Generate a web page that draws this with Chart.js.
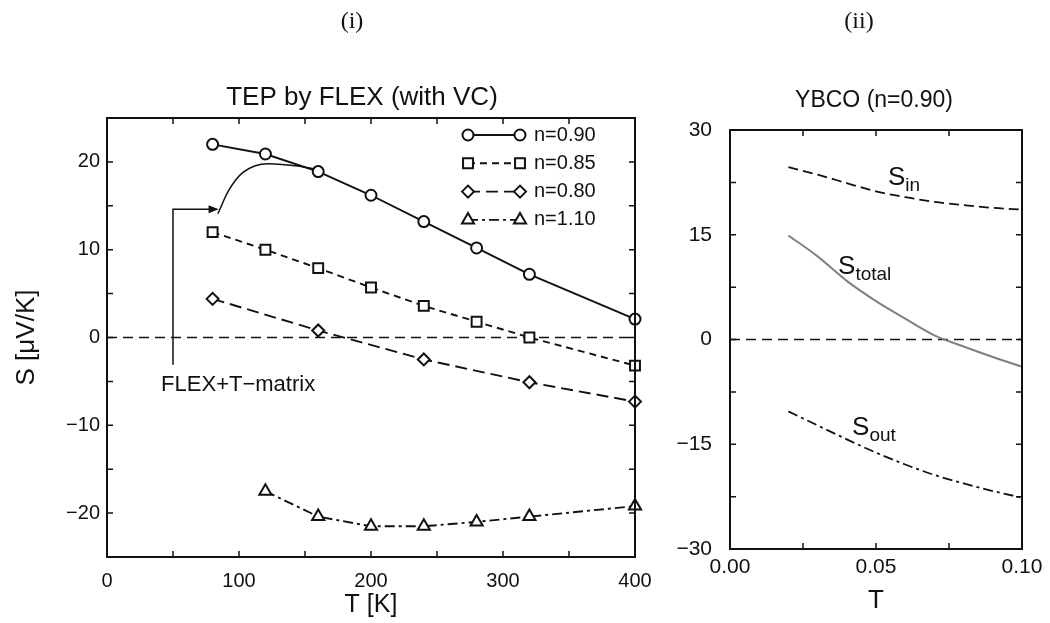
<!DOCTYPE html>
<html>
<head>
<meta charset="utf-8">
<title>TEP by FLEX</title>
<script src="https://cdn.jsdelivr.net/npm/chart.js@4.4.1/dist/chart.umd.min.js"></script>
<style>
body { margin: 0; background: #fff; width: 1050px; height: 623px; position: relative; overflow: hidden; }
#leftChart { position: absolute; left: 0; top: 0; }
#rightChart { position: absolute; left: 640px; top: 0; }
</style>
</head>
<body>
<canvas id="leftChart" width="680" height="623"></canvas>
<canvas id="rightChart" width="410" height="623"></canvas>
<script>
"use strict"
// (i) TEP by FLEX (with VC)
const tempK = [80, 120, 160, 200, 240, 280, 320, 400];
const s090 = [22.0, 20.9, 18.9, 16.2, 13.2, 10.2, 7.2, 2.1];
const s085 = [12.0, 10.0, 7.9, 5.7, 3.6, 1.8, 0.0, -3.2];
const tempK080 = [80, 160, 240, 320, 400];
const s080 = [4.4, 0.8, -2.5, -5.1, -7.3];
const tempK110 = [120, 160, 200, 240, 280, 320, 400];
const s110 = [-17.5, -20.4, -21.5, -21.5, -21.0, -20.4, -19.2];
// FLEX+T-matrix kurva (utan markörer)
const tempTm = [84, 92, 103, 122, 146, 157];
const sTm = [14.1, 16.7, 18.8, 19.8, 19.5, 19.2];
const leftXTicks = [0, 100, 200, 300, 400];
const leftYTicks = [-20, -10, 0, 10, 20];

// (ii) YBCO (n=0.90)
const tRight = [0.02, 0.03, 0.04, 0.05, 0.06, 0.07, 0.08, 0.09, 0.10];
const sIn = [24.7, 23.6, 22.4, 21.2, 20.4, 19.7, 19.25, 18.85, 18.6];
const sTotal = [14.9, 11.9, 8.4, 5.5, 3.0, 0.6, -1.0, -2.5, -3.9];
const sOut = [-10.3, -12.3, -14.3, -16.2, -17.9, -19.4, -20.6, -21.7, -22.65];
const rightXTicks = [0, 0.05, 0.1];
const rightYTicks = [-30, -15, 0, 15, 30];

const SANS = "'Liberation Sans', Arial, sans-serif";
const SERIF = "'Liberation Serif', 'Times New Roman', serif";
const INK = '#111';
Chart.defaults.font.family = SANS;
Chart.defaults.color = INK;

const toXY = (xs, ys) => xs.map((x, i) => ({x: x, y: ys[i]}));
const inList = (list, v) => list.some(t => Math.abs(t - v) < 1e-9);
const minus = s => String(s).replace('-', '\u2212');

//Ram, inåtriktade tickmarkeringar och nollinje
const framePlugin = {
    id: 'frame',
    beforeDatasetsDraw(chart) {
        const {ctx, chartArea: a, scales: {y}} = chart;
        const y0 = y.getPixelForValue(0);
        ctx.save();
        ctx.strokeStyle = INK;
        ctx.lineWidth = 1.5;
        ctx.setLineDash([10, 6]);
        ctx.beginPath();
        ctx.moveTo(a.left, y0);
        ctx.lineTo(a.right, y0);
        ctx.stroke();
        ctx.restore();
    },
    afterDatasetsDraw(chart) {
        const {ctx, chartArea: a, scales: {x, y}} = chart;
        const len = 6;
        ctx.save();
        ctx.strokeStyle = INK;
        ctx.lineWidth = 1.5;
        ctx.beginPath();
        x.ticks.forEach(t => {
            const px = x.getPixelForValue(t.value);
            ctx.moveTo(px, a.bottom); ctx.lineTo(px, a.bottom - len);
            ctx.moveTo(px, a.top); ctx.lineTo(px, a.top + len);
        });
        y.ticks.forEach(t => {
            const py = y.getPixelForValue(t.value);
            ctx.moveTo(a.left, py); ctx.lineTo(a.left + len, py);
            ctx.moveTo(a.right, py); ctx.lineTo(a.right - len, py);
        });
        ctx.stroke();
        ctx.lineWidth = 2;
        ctx.strokeRect(a.left, a.top, a.right - a.left, a.bottom - a.top);
        ctx.restore();
    }
};

//Fri text (rubriker) i canvas-koordinater
const textPlugin = {
    id: 'freeText',
    afterDraw(chart, args, opts) {
        const ctx = chart.ctx;
        ctx.save();
        ctx.fillStyle = INK;
        opts.items.forEach(it => {
            ctx.font = it.font;
            ctx.textAlign = it.align || 'center';
            ctx.textBaseline = 'alphabetic';
            ctx.fillText(it.text, it.x, it.y);
        });
        ctx.restore();
    }
};

//Legend med markör i båda ändar
const legendPlugin = {
    id: 'sideLegend',
    afterDraw(chart, args, opts) {
        const ctx = chart.ctx;
        ctx.save();
        chart.data.datasets.forEach(ds => {
            if (ds.legendRow === undefined) return;
            const y = opts.top + ds.legendRow * opts.rowGap;
            ctx.strokeStyle = ds.borderColor;
            ctx.lineWidth = ds.borderWidth;
            ctx.setLineDash(ds.borderDash || []);
            ctx.beginPath();
            ctx.moveTo(opts.x1, y);
            ctx.lineTo(opts.x2, y);
            ctx.stroke();
            ctx.setLineDash([]);
            ctx.fillStyle = '#fff';
            ctx.lineWidth = ds.pointBorderWidth;
            [opts.x1, opts.x2].forEach(px => {
                Chart.helpers.drawPoint(ctx, {pointStyle: ds.pointStyle, radius: ds.pointRadius, borderWidth: ds.pointBorderWidth, rotation: 0}, px, y);
            });
            ctx.fillStyle = INK;
            ctx.font = opts.font;
            ctx.textAlign = 'left';
            ctx.textBaseline = 'middle';
            ctx.fillText(ds.label, opts.textX, y);
        });
        ctx.restore();
    }
};

//Pil + text "FLEX+T-matrix", i datakoordinater
const arrowPlugin = {
    id: 'tmArrow',
    afterDatasetsDraw(chart, args, o) {
        const {ctx, scales: {x, y}} = chart;
        const pts = o.path.map(p => [x.getPixelForValue(p[0]), y.getPixelForValue(p[1])]);
        ctx.save();
        ctx.strokeStyle = INK;
        ctx.fillStyle = INK;
        ctx.lineWidth = 1.5;
        ctx.beginPath();
        pts.forEach((p, i) => i ? ctx.lineTo(p[0], p[1]) : ctx.moveTo(p[0], p[1]));
        ctx.stroke();
        const [xe, ye] = pts[pts.length - 1];
        ctx.beginPath();
        ctx.moveTo(xe + 2, ye);
        ctx.lineTo(xe - 8, ye - 4);
        ctx.lineTo(xe - 8, ye + 4);
        ctx.closePath();
        ctx.fill();
        ctx.font = o.font;
        ctx.textAlign = 'left';
        ctx.textBaseline = 'alphabetic';
        ctx.fillText(o.text, x.getPixelForValue(o.textAt[0]), y.getPixelForValue(o.textAt[1]));
        ctx.restore();
    }
};

//S med nedsänkt index, i datakoordinater
const subLabelPlugin = {
    id: 'subLabels',
    afterDatasetsDraw(chart, args, o) {
        const {ctx, scales: {x, y}} = chart;
        ctx.save();
        ctx.fillStyle = INK;
        ctx.textAlign = 'left';
        ctx.textBaseline = 'alphabetic';
        o.items.forEach(it => {
            const px = x.getPixelForValue(it.at[0]);
            const py = y.getPixelForValue(it.at[1]);
            ctx.font = o.bigFont;
            ctx.fillText('S', px, py);
            const w = ctx.measureText('S').width;
            ctx.font = o.subFont;
            ctx.fillText(it.sub, px + w, py + 6);
        });
        ctx.restore();
    }
};

const markerBase = {
    borderColor: INK, pointBorderColor: INK, pointBackgroundColor: '#fff',
    borderWidth: 1.9, pointBorderWidth: 2, tension: 0, clip: false, fill: false
};

new Chart(document.getElementById('leftChart'), {
    type: 'line',
    data: {
        datasets: [
            Object.assign({}, markerBase, {label: 'n=0.90', data: toXY(tempK, s090), pointStyle: 'circle', pointRadius: 5.5, legendRow: 0}),
            Object.assign({}, markerBase, {label: 'n=0.85', data: toXY(tempK, s085), pointStyle: 'rect', pointRadius: 7, borderDash: [7, 5], legendRow: 1}),
            Object.assign({}, markerBase, {label: 'n=0.80', data: toXY(tempK080, s080), pointStyle: 'rectRot', pointRadius: 6, borderDash: [12, 6], legendRow: 2}),
            Object.assign({}, markerBase, {label: 'n=1.10', data: toXY(tempK110, s110), pointStyle: 'triangle', pointRadius: 7, borderDash: [10, 4, 3, 4], legendRow: 3}),
            {label: 'FLEX+T-matrix', data: toXY(tempTm, sTm), borderColor: INK, borderWidth: 1.5, pointRadius: 0, cubicInterpolationMode: 'monotone', fill: false}
        ]
    },
    options: {
        responsive: false,
        animation: false,
        layout: {padding: {top: 118, right: 45, bottom: 0, left: 0}},
        scales: {
            x: {
                type: 'linear', min: 0, max: 400,
                afterFit: s => { s.height = 66; },
                grid: {display: false, drawTicks: false},
                border: {display: false},
                ticks: {stepSize: 50, padding: 12, maxRotation: 0, autoSkip: false, font: {size: 20},
                    callback: v => inList(leftXTicks, v) ? minus(v) : ''},
                title: {display: true, text: 'T [K]', font: {size: 25}, padding: {top: 0, bottom: 3}}
            },
            y: {
                type: 'linear', min: -25, max: 25,
                afterFit: s => { s.width = 107; },
                grid: {display: false, drawTicks: false},
                border: {display: false},
                ticks: {stepSize: 5, padding: 7, autoSkip: false, font: {size: 20},
                    callback: v => inList(leftYTicks, v) ? minus(v) : ''},
                title: {display: true, text: 'S [\u03bcV/K]', font: {size: 26}, padding: {top: 11, bottom: 0}}
            }
        },
        plugins: {
            legend: {display: false},
            tooltip: {enabled: false},
            sideLegend: {top: 135, rowGap: 28.3, x1: 468, x2: 520, textX: 534, font: '20px ' + SANS},
            tmArrow: {path: [[50, -3.1], [50, 14.6], [83, 14.6]], text: 'FLEX+T\u2212matrix', textAt: [41, -6.1], font: '22px ' + SANS},
            freeText: {items: [
                {text: '(i)', x: 352, y: 28, font: '24px ' + SERIF},
                {text: 'TEP by FLEX (with VC)', x: 362, y: 105, font: '26px ' + SANS}
            ]}
        }
    },
    plugins: [framePlugin, legendPlugin, arrowPlugin, textPlugin]
});

new Chart(document.getElementById('rightChart'), {
    type: 'line',
    data: {
        datasets: [
            {label: 'S_in', data: toXY(tRight, sIn), borderColor: INK, borderWidth: 1.8, borderDash: [10, 5], pointRadius: 0, cubicInterpolationMode: 'monotone', fill: false},
            {label: 'S_total', data: toXY(tRight, sTotal), borderColor: '#808080', borderWidth: 2, pointRadius: 0, cubicInterpolationMode: 'monotone', fill: false},
            {label: 'S_out', data: toXY(tRight, sOut), borderColor: INK, borderWidth: 1.8, borderDash: [10, 4, 3, 4], pointRadius: 0, cubicInterpolationMode: 'monotone', fill: false}
        ]
    },
    options: {
        responsive: false,
        animation: false,
        layout: {padding: {top: 130, right: 28, bottom: 0, left: 0}},
        scales: {
            x: {
                type: 'linear', min: 0, max: 0.1,
                afterFit: s => { s.height = 74; },
                grid: {display: false, drawTicks: false},
                border: {display: false},
                ticks: {stepSize: 0.025, padding: 6, maxRotation: 0, autoSkip: false, font: {size: 21},
                    callback: v => inList(rightXTicks, v) ? v.toFixed(2) : ''},
                title: {display: true, text: 'T', font: {size: 26}, padding: {top: 0, bottom: 7}}
            },
            y: {
                type: 'linear', min: -30, max: 30,
                afterFit: s => { s.width = 90; },
                grid: {display: false, drawTicks: false},
                border: {display: false},
                ticks: {stepSize: 7.5, padding: 18, autoSkip: false, font: {size: 21},
                    callback: v => inList(rightYTicks, v) ? minus(v) : ''}
            }
        },
        plugins: {
            legend: {display: false},
            tooltip: {enabled: false},
            subLabels: {bigFont: '26px ' + SANS, subFont: '19px ' + SANS, items: [
                {sub: 'in', at: [0.0541, 22.1]},
                {sub: 'total', at: [0.037, 9.4]},
                {sub: 'out', at: [0.0418, -13.7]}
            ]},
            freeText: {items: [
                {text: '(ii)', x: 219, y: 28, font: '24px ' + SERIF},
                {text: 'YBCO (n=0.90)', x: 234, y: 107, font: '23px ' + SANS}
            ]}
        }
    },
    plugins: [framePlugin, subLabelPlugin, textPlugin]
});
</script>
</body>
</html>
